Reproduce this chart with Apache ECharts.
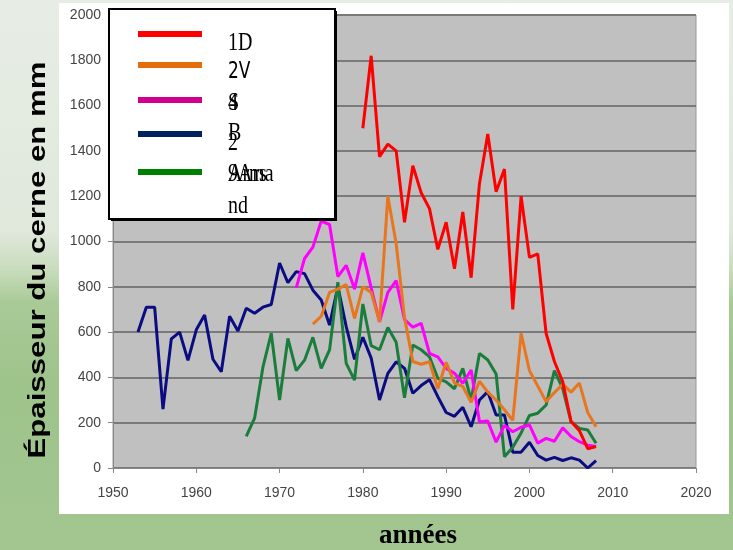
<!DOCTYPE html>
<html><head><meta charset="utf-8">
<script src="https://cdn.jsdelivr.net/npm/echarts@6/dist/echarts.min.js"></script>
<style>
html,body{margin:0;padding:0;width:733px;height:550px;overflow:hidden;}
body{background:linear-gradient(180deg,#e7ede5 0%,#e0e8dc 42%,#c9dcbd 49%,#a9ca97 55%,#9ec38b 70%,#a3c690 100%);position:relative;}
#panel{position:absolute;left:59px;top:3px;width:670px;height:511px;background:#ffffff;}
#chart{position:absolute;left:0;top:0;width:733px;height:550px;}
</style></head>
<body>
<div id="panel"></div>
<div id="chart"></div>
<script>
var years = [1953,1954,1955,1956,1957,1958,1959,1960,1961,1962,1963,1964,1965,1966,1967,1968,1969,1970,1971,1972,1973,1974,1975,1976,1977,1978,1979,1980,1981,1982,1983,1984,1985,1986,1987,1988,1989,1990,1991,1992,1993,1994,1995,1996,1997,1998,1999,2000,2001,2002,2003,2004,2005,2006,2007,2008];

var s1D = [null,null,null,null,null,null,null,null,null,null,null,null,null,null,null,null,null,null,null,null,null,null,null,null,null,null,null,
  1500,1820,1375,1430,1400,1085,1335,1215,1145,965,1085,880,1130,840,1255,1475,1220,1320,700,1200,930,945,595,470,380,205,165,85,95];

var s2V = [null,null,null,null,null,null,null,null,null,null,null,null,null,null,null,null,null,null,null,null,null,
  635,670,775,790,810,660,800,775,645,1200,990,665,470,458,469,350,467,375,360,290,383,335,300,257,210,595,430,362,293,333,370,335,375,245,182];

var sS4 = [null,null,null,null,null,null,null,null,null,null,null,null,null,null,null,null,null,null,null,
  795,925,975,1090,1075,845,895,790,950,795,645,775,827,655,622,639,506,491,440,418,374,433,204,207,114,188,160,180,190,110,131,118,177,139,116,101,95];

var sB2 = [600,710,710,260,570,600,475,610,675,480,425,670,605,705,683,710,722,905,818,867,858,785,742,631,800,624,480,577,485,300,418,469,440,330,364,390,315,245,228,268,182,300,337,234,234,70,70,114,55,35,47,33,45,35,0,33];

var s9Ars = [null,null,null,null,null,null,null,null,null,null,null,null,null,
  140,220,445,595,300,572,430,476,577,440,521,820,462,388,724,540,522,620,555,310,543,522,491,396,380,350,440,300,506,477,415,50,92,155,232,242,278,430,350,204,175,168,109];

var seriesNames = ['B2','9Ars Armand','S4','2V','1D'];
var seriesValues = [sB2, s9Ars, sS4, s2V, s1D];
var lineColors = ['#0c0c82','#1b7d3c','#ff00ff','#e8761e','#ff0000'];
var xTicks = {min:1950, max:2020, interval:10};
var yTicks = {min:0, max:2000, interval:200};

function pairs(vals){
  var out = [];
  for (var i = 0; i < years.length; i++) {
    if (vals[i] !== null) out.push([years[i], vals[i]]);
  }
  return out;
}

var series = seriesValues.map(function(v, i){
  return {
    name: seriesNames[i], type: 'line', data: pairs(v),
    symbol: 'none', smooth: false, animation: false,
    lineStyle: {color: lineColors[i], width: 3},
    z: 2 + i
  };
});

var serif = '"Liberation Serif","Times New Roman",serif';
var legendLines = [
  {y: 34, c: '#ff0000'},
  {y: 65, c: '#e46c0a'},
  {y: 100, c: '#d0008c'},
  {y: 134, c: '#002060'},
  {y: 172, c: '#008000'}
];
var legendTexts = [
  {t: '1D', y: 43.5, f: '20px ' + serif},
  {t: '2V', y: 72.5, f: '17px "DejaVu Sans", sans-serif'},
  {t: 'S', y: 103.5, f: '20px ' + serif},
  {t: '4', y: 103.5, f: '20px ' + serif},
  {t: 'B', y: 133.5, f: '20px ' + serif},
  {t: '2', y: 143.5, f: '20px ' + serif},
  {t: '9Ars', y: 174.5, f: '20px ' + serif},
  {t: 'Arma', y: 174.5, f: '20px ' + serif},
  {t: 'nd', y: 206.5, f: '20px ' + serif}
];

var graphics = [
  {type: 'rect', shape: {x: 111, y: 11, width: 226, height: 210}, style: {fill: '#000'}, z: 100},
  {type: 'rect', shape: {x: 109, y: 9, width: 226, height: 210}, style: {fill: '#fff', stroke: '#000', lineWidth: 2}, z: 101}
];
legendLines.forEach(function(l){
  graphics.push({type: 'line', shape: {x1: 138, y1: l.y, x2: 202, y2: l.y}, style: {stroke: l.c, lineWidth: 6}, z: 102});
});
legendTexts.forEach(function(t){
  graphics.push({type: 'text', x: 228, y: t.y, scaleY: 1.3, z: 103,
    style: {text: t.t, x: 0, y: 0, font: t.f, fill: '#000', textAlign: 'left', textVerticalAlign: 'middle', verticalAlign: 'middle'}});
});
graphics.push({type: 'text', x: 38, y: 260, rotation: Math.PI / 2, scaleX: 1.3, z: 103,
  style: {text: 'Épaisseur du cerne en mm', x: 0, y: 0, font: 'bold 24px "Liberation Sans", Arial, sans-serif', fill: '#000', textAlign: 'center', textVerticalAlign: 'middle', verticalAlign: 'middle'}});
graphics.push({type: 'text', x: 418, y: 536, z: 103,
  style: {text: 'années', x: 0, y: 0, font: 'bold 27px ' + serif, fill: '#000', textAlign: 'center', textVerticalAlign: 'middle', verticalAlign: 'middle'}});

var chart = echarts.init(document.getElementById('chart'), null, {renderer: 'canvas'});
chart.setOption({
  animation: false,
  backgroundColor: 'transparent',
  grid: {left: 113, right: 37, top: 15, bottom: 82, show: true, backgroundColor: '#c0c0c0', borderColor: '#9a9a9a', borderWidth: 1},
  xAxis: {
    type: 'value', min: xTicks.min, max: xTicks.max, interval: xTicks.interval,
    axisLine: {lineStyle: {color: '#888', width: 1}},
    axisTick: {show: true, length: 5, lineStyle: {color: '#888'}},
    axisLabel: {margin: 18, color: '#444', fontSize: 14, fontFamily: '"Liberation Sans", Arial, sans-serif', formatter: function(v){return String(v);}},
    splitLine: {show: false}
  },
  yAxis: {
    type: 'value', min: yTicks.min, max: yTicks.max, interval: yTicks.interval,
    axisLine: {show: true, lineStyle: {color: '#888', width: 1}},
    axisTick: {show: true, length: 5, lineStyle: {color: '#888'}},
    axisLabel: {margin: 12, color: '#444', fontSize: 14, fontFamily: '"Liberation Sans", Arial, sans-serif', formatter: function(v){return String(v);}},
    splitLine: {show: true, lineStyle: {color: '#7a7a7a', width: 2}}
  },
  series: series,
  graphic: graphics
});
</script>
</body></html>
